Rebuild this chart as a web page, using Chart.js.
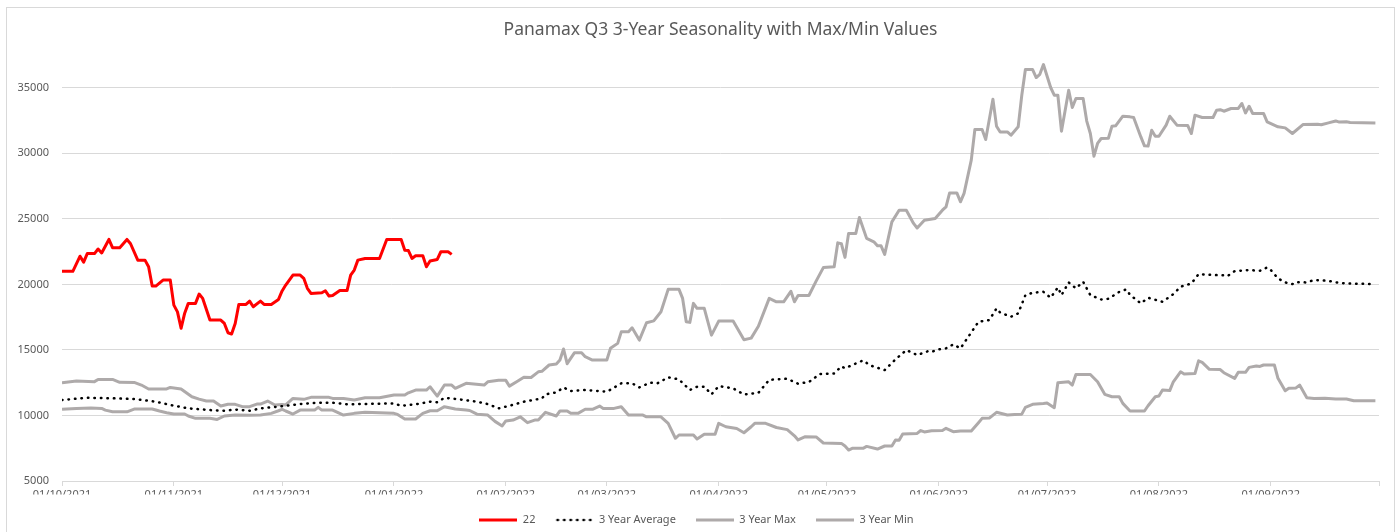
<!DOCTYPE html>
<html>
<head>
<meta charset="utf-8">
<title>Panamax Q3 3-Year Seasonality</title>
<script src="https://cdn.jsdelivr.net/npm/chart.js@4/dist/chart.umd.min.js"></script>
<style>
  html, body { margin: 0; padding: 0; background: #fff; overflow: hidden; }
  canvas { display: block; }
</style>
</head>
<body>
<canvas id="chart" width="1399" height="536"></canvas>
<script>
// x values are day offsets from 01/10/2021
const startDate = Date.UTC(2021, 9, 1);
const monthStarts = [0, 31, 61, 92, 123, 151, 182, 212, 243, 273, 304, 335, 365];
const yTicks = [5000, 10000, 15000, 20000, 25000, 30000, 35000];

const days22 = [0, 3, 5, 6, 7, 9, 10, 11, 13, 14, 16, 18, 19, 21, 23, 24, 25, 26, 28, 30,
  31, 32, 33, 34, 35, 37, 38, 39, 41, 44, 45, 46, 47, 48, 49, 51, 52, 53, 55, 56,
  58, 60, 61, 62, 64, 66, 67, 68, 69, 72, 73, 74, 75, 77, 79, 80, 81, 82, 84, 88,
  90, 94, 95, 96, 97, 98, 100, 101, 102, 104, 105, 107, 108];
const values22 = [21000, 21000, 22150, 21700, 22350, 22350, 22700, 22400, 23430, 22800, 22800, 23430, 23100, 21850, 21850, 21350, 19870, 19870, 20330, 20330,
  18420, 17900, 16650, 17800, 18550, 18550, 19260, 18930, 17280, 17280, 17020, 16310, 16210, 17020, 18470, 18470, 18720, 18290, 18720, 18470,
  18470, 18850, 19500, 19950, 20710, 20710, 20460, 19700, 19310, 19360, 19510, 19110, 19150, 19530, 19530, 20710, 21090, 21850, 21980, 21980,
  23430, 23430, 22610, 22580, 21980, 22180, 22180, 21340, 21780, 21900, 22490, 22490, 22290];

const avgDays = [0, 7, 13, 20, 26, 30, 35, 41, 45, 48, 52, 55, 60, 66, 71, 75, 79, 84, 92, 94,
  98, 102, 104, 106, 110, 115, 118, 121, 124, 128, 133, 134, 137, 139, 141, 145, 151, 155, 158, 160,
  163, 165, 168, 171, 174, 176, 178, 180, 182, 186, 189, 193, 196, 201, 204, 207, 210, 214, 216, 217,
  222, 224, 228, 231, 234, 237, 240, 241, 243, 245, 247, 249, 251, 254, 257, 259, 260, 263, 265, 267,
  269, 272, 274, 276, 277, 279, 281, 283, 285, 288, 290, 293, 295, 296, 299, 301, 305, 308, 310, 313,
  315, 317, 319, 322, 323, 325, 329, 332, 334, 335, 337, 339, 341, 342, 345, 347, 351, 353, 356, 364];
const avgValues = [11180, 11350, 11320, 11250, 11050, 10800, 10540, 10410, 10360, 10450, 10360, 10540, 10670, 10870, 10970, 10970, 10850, 10880, 10920, 10740,
  10850, 11050, 11000, 11350, 11230, 11050, 10870, 10540, 10740, 11050, 11300, 11610, 11760, 12140, 11860, 11940, 11810, 12450, 12450, 12140,
  12500, 12450, 12910, 12750, 11940, 12190, 12200, 11610, 12240, 12070, 11600, 11730, 12720, 12800, 12420, 12550, 13160, 13200, 13750, 13600,
  14200, 13820, 13460, 14280, 14990, 14610, 14900, 14850, 15040, 15120, 15420, 15120, 15930, 17150, 17280, 18170, 17850, 17530, 17790, 19180,
  19360, 19430, 18980, 19770, 19180, 20150, 19700, 20200, 19180, 18850, 18900, 19430, 19620, 19200, 18550, 18980, 18670, 19260, 19820, 20070,
  20780, 20750, 20710, 20700, 20630, 21010, 21090, 21040, 21290, 21100, 20460, 20150, 20020, 20170, 20150, 20330, 20270, 20150, 20070, 20020];

const maxDays = [0, 4, 9, 10, 14, 16, 20, 22, 24, 29, 30, 33, 36, 38, 40, 42, 44, 46, 48, 50,
  52, 54, 55, 57, 59, 61, 62, 64, 67, 69, 74, 75, 78, 81, 84, 88, 92, 95, 96, 98,
  101, 102, 104, 106, 108, 109, 112, 117, 118, 121, 123, 124, 126, 128, 130, 132, 133, 135, 137, 138,
  139, 140, 142, 144, 145, 147, 151, 152, 154, 155, 157, 158, 160, 162, 164, 166, 168, 171, 172, 173,
  174, 175, 176, 178, 180, 182, 186, 189, 191, 193, 196, 198, 200, 202, 203, 204, 207, 209, 211, 214,
  215, 216, 217, 218, 220, 221, 223, 225, 226, 227, 228, 230, 232, 234, 236, 237, 239, 242, 244, 245,
  246, 248, 249, 250, 252, 253, 255, 256, 258, 259, 260, 262, 263, 265, 266, 267, 269, 270, 271, 272,
  274, 275, 276, 277, 279, 280, 281, 283, 284, 285, 286, 287, 288, 290, 291, 292, 294, 296, 297, 299,
  300, 301, 302, 303, 304, 306, 307, 309, 312, 313, 314, 316, 319, 320, 321, 322, 324, 326, 327, 328,
  329, 330, 333, 334, 337, 339, 341, 344, 348, 349, 351, 353, 354, 356, 357, 364];
const maxValues = [12500, 12630, 12580, 12750, 12750, 12530, 12520, 12320, 12020, 12020, 12140, 12020, 11430, 11250, 11100, 11100, 10720, 10850, 10850, 10670,
  10670, 10870, 10870, 11100, 10800, 10830, 10800, 11300, 11230, 11380, 11380, 11300, 11300, 11180, 11350, 11350, 11560, 11560, 11730, 11940,
  11940, 12190, 11480, 12320, 12320, 12070, 12450, 12320, 12570, 12680, 12680, 12240, 12570, 12910, 12900, 13330, 13370, 13850, 13920, 14230,
  15070, 13950, 14780, 14780, 14480, 14230, 14230, 15120, 15500, 16380, 16380, 16690, 15750, 17070, 17220, 17910, 19620, 19620, 18930, 17150,
  17100, 18550, 18170, 18170, 16130, 17200, 17200, 15780, 15900, 16800, 18930, 18670, 18670, 19470, 18670, 19150, 19150, 20250, 21280, 21340,
  23170, 23100, 22060, 23890, 23890, 25110, 23510, 23250, 22940, 22940, 22290, 24770, 25660, 25660, 24650, 24300, 24900, 25030, 25660, 25920,
  26980, 26980, 26300, 26940, 29480, 31820, 31820, 31050, 34130, 32070, 31630, 31630, 31380, 32020, 34430, 36390, 36390, 35780, 36030, 36770,
  35020, 34430, 34430, 31690, 34810, 33490, 34180, 34180, 32460, 31510, 29780, 30750, 31130, 31150, 32070, 32100, 32830, 32780, 32730, 31250,
  30570, 30550, 31760, 31300, 31300, 32150, 32830, 32150, 32120, 31510, 32910, 32730, 32730, 33290, 33330, 33210, 33420, 33420, 33800, 33080,
  33590, 33040, 33040, 32400, 32020, 31940, 31510, 32200, 32220, 32180, 32320, 32470, 32380, 32400, 32350, 32320];

const minDays = [0, 4, 8, 11, 12, 14, 18, 20, 25, 27, 29, 31, 34, 35, 37, 41, 43, 45, 48, 52,
  55, 58, 60, 61, 62, 64, 66, 70, 71, 72, 75, 78, 81, 84, 92, 93, 95, 98, 100, 102,
  104, 106, 109, 112, 113, 115, 118, 120, 122, 123, 125, 127, 129, 131, 132, 134, 137, 138, 140, 141,
  143, 145, 147, 149, 150, 153, 155, 157, 161, 162, 166, 168, 170, 171, 175, 176, 178, 181, 182, 184,
  187, 189, 191, 192, 195, 198, 201, 203, 204, 206, 209, 211, 216, 217, 218, 219, 222, 223, 226, 228,
  230, 231, 232, 233, 237, 238, 239, 241, 244, 245, 247, 249, 252, 254, 255, 257, 259, 262, 264, 266,
  267, 269, 272, 273, 275, 276, 279, 280, 281, 285, 287, 289, 291, 293, 294, 296, 300, 301, 303, 304,
  305, 307, 308, 310, 311, 314, 315, 316, 318, 321, 322, 325, 326, 328, 329, 331, 332, 333, 336, 337,
  339, 340, 342, 343, 345, 347, 350, 353, 356, 358, 364];
const minValues = [10470, 10540, 10570, 10540, 10410, 10280, 10280, 10490, 10490, 10340, 10210, 10110, 10110, 9960, 9780, 9780, 9700, 9960, 10030, 10010,
  10030, 10160, 10360, 10470, 10340, 10110, 10410, 10410, 10620, 10410, 10410, 10030, 10160, 10240, 10160, 10080, 9730, 9730, 10160, 10360,
  10360, 10670, 10490, 10410, 10380, 10100, 10030, 9550, 9200, 9580, 9650, 9900, 9450, 9650, 9650, 10240, 9960, 10340, 10340, 10160,
  10160, 10470, 10470, 10720, 10540, 10540, 10670, 10030, 10030, 9900, 9900, 9400, 8260, 8510, 8510, 8200, 8560, 8560, 9400, 9140,
  9000, 8680, 9140, 9400, 9400, 9080, 8920, 8450, 8130, 8380, 8360, 7900, 7870, 7670, 7360, 7490, 7490, 7640, 7440, 7670,
  7670, 8130, 8100, 8580, 8630, 8850, 8740, 8830, 8850, 9020, 8760, 8820, 8810, 9450, 9780, 9800, 10240, 10030, 10080, 10100,
  10620, 10850, 10920, 10950, 10590, 12500, 12570, 12320, 13130, 13130, 12570, 11610, 11430, 11430, 10920, 10340, 10340, 10740, 11430, 11480,
  11940, 11900, 12570, 13330, 13160, 13200, 14170, 14050, 13520, 13500, 13260, 12830, 13290, 13290, 13670, 13770, 13740, 13850, 13850, 12830,
  11880, 12070, 12100, 12320, 11350, 11300, 11320, 11250, 11250, 11120, 11120];

const toPoints = (xs, ys) => xs.map((x, i) => ({ x: x, y: ys[i] }));

function formatDay(v) {
    const d = new Date(startDate + v * 86400000);
    const dd = String(d.getUTCDate()).padStart(2, '0');
    const mm = String(d.getUTCMonth() + 1).padStart(2, '0');
    return `${dd}/${mm}/${d.getUTCFullYear()}`;
}

// small line samples for the legend
function legendSample(color, width, dash) {
    const c = document.createElement('canvas');
    c.width = 38;
    c.height = 6;
    const ctx = c.getContext('2d');
    ctx.strokeStyle = color;
    ctx.lineWidth = width;
    if (dash) {
        ctx.setLineDash(dash);
        ctx.lineCap = 'round';
    }
    ctx.beginPath();
    ctx.moveTo(dash ? 2 : 0, 3);
    ctx.lineTo(38, 3);
    ctx.stroke();
    return c;
}

const frame = {
    id: 'frame',
    beforeDraw(chart) {
        const ctx = chart.ctx;
        ctx.save();
        ctx.fillStyle = '#ffffff';
        ctx.fillRect(0, 0, chart.width, chart.height);
        ctx.strokeStyle = '#d9d9d9';
        ctx.lineWidth = 1;
        ctx.strokeRect(6.5, 7.5, 1388, 530);
        ctx.restore();
    }
};

Chart.defaults.font.family = "'Noto Sans', sans-serif";
Chart.defaults.color = '#595959';

const lineBase = { pointRadius: 0, pointHoverRadius: 0, tension: 0, borderJoinStyle: 'round', fill: false };
const red = '#ff0000';
const grey = '#aeaaaa';

new Chart(document.getElementById('chart'), {
    type: 'line',
    data: {
        datasets: [
            { ...lineBase, label: '22', data: toPoints(days22, values22), borderColor: red, backgroundColor: red,
              borderWidth: 3, pointStyle: legendSample(red, 3) },
            { ...lineBase, label: '3 Year Average', data: toPoints(avgDays, avgValues), borderColor: '#000000', backgroundColor: '#000000',
              borderWidth: 2.5, borderDash: [0.5, 6], borderCapStyle: 'round', pointStyle: legendSample('#000000', 2.5, [0.5, 6]) },
            { ...lineBase, label: '3 Year Max', data: toPoints(maxDays, maxValues), borderColor: grey, backgroundColor: grey,
              borderWidth: 3, pointStyle: legendSample(grey, 3) },
            { ...lineBase, label: '3 Year Min', data: toPoints(minDays, minValues), borderColor: grey, backgroundColor: grey,
              borderWidth: 3, pointStyle: legendSample(grey, 3) }
        ]
    },
    options: {
        responsive: false,
        animation: false,
        devicePixelRatio: 1,
        layout: { padding: { left: 14, right: 20, top: 19.5, bottom: 0.5 } },
        plugins: {
            title: {
                display: true,
                fullSize: false,
                text: 'Panamax Q3 3-Year Seasonality with Max/Min Values',
                color: '#595959',
                font: { size: 17.5, weight: 'normal' },
                padding: { top: 0, bottom: 14.5 }
            },
            legend: {
                position: 'bottom',
                labels: {
                    usePointStyle: true,
                    pointStyleWidth: 38,
                    padding: 20,
                    color: '#595959',
                    font: { size: 11 }
                }
            },
            tooltip: { enabled: false }
        },
        scales: {
            x: {
                type: 'linear',
                min: 0,
                max: 365,
                afterBuildTicks: scale => { scale.ticks = monthStarts.map(v => ({ value: v })); },
                afterFit: scale => { scale.height = 13.5; },
                ticks: {
                    autoSkip: false,
                    maxRotation: 0,
                    padding: 2,
                    font: { size: 11 },
                    color: '#595959',
                    callback: v => (v >= 365 ? '' : formatDay(v))
                },
                grid: { drawOnChartArea: false, drawTicks: true, tickLength: 5, color: '#d9d9d9' },
                border: { display: true, color: '#d9d9d9' }
            },
            y: {
                min: 5000,
                max: 37500,
                afterBuildTicks: scale => { scale.ticks = yTicks.map(v => ({ value: v })); },
                afterFit: scale => { scale.width = 48; },
                ticks: { padding: 13, font: { size: 11 }, color: '#595959', callback: v => String(v) },
                grid: { color: '#d9d9d9', drawTicks: false },
                border: { display: false }
            }
        }
    },
    plugins: [frame]
});
</script>
</body>
</html>
